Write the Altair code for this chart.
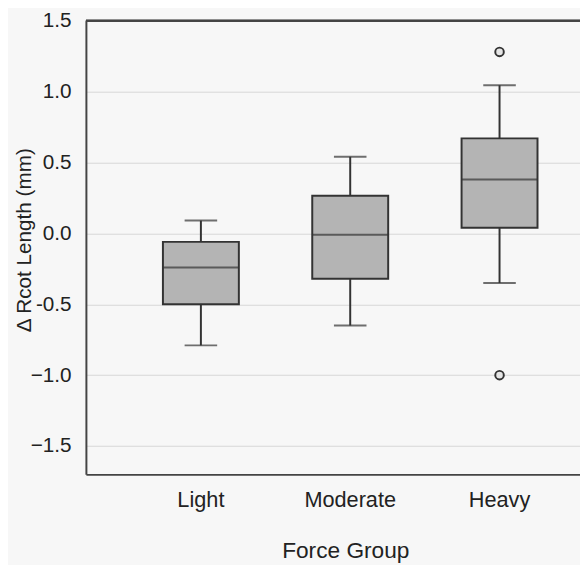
import altair as alt
import pandas as pd

# ---- data ----
groups = ["Light", "Moderate", "Heavy"]
whisker_low = [-0.79, -0.65, -0.35]
q1 = [-0.50, -0.32, 0.04]
median = [-0.24, -0.01, 0.38]
q3 = [-0.06, 0.265, 0.67]
whisker_high = [0.09, 0.54, 1.045]

outlier_groups = ["Heavy", "Heavy"]
outlier_values = [1.28, -1.00]

y_ticks = [-1.5, -1.0, -0.5, 0.0, 0.5, 1.0, 1.5]

stats = pd.DataFrame({
    "group": groups, "lo": whisker_low, "q1": q1, "med": median,
    "q3": q3, "hi": whisker_high,
})
outliers = pd.DataFrame({"group": outlier_groups, "value": outlier_values})

FONT = "Liberation Sans"
TXT = "#222222"
LINE = "#333333"
FRAME = "#444444"

W, H = 501, 460

xscale = alt.Scale(domain=groups, range=[0, 536], paddingInner=0.5, paddingOuter=0.52)
yscale = alt.Scale(domain=[-1.7, 1.5], nice=False, zero=False)

x_axis = alt.Axis(
    title="Force Group", labelAngle=0, ticks=False, tickSize=0, grid=False,
    labelFont=FONT, labelFontSize=22, labelColor=TXT, labelBaseline="alphabetic",
    labelPadding=33, titleFont=FONT, titleFontSize=23, titleFontWeight="normal",
    titleColor=TXT, titleBaseline="alphabetic", titleX=263, titleY=84,
    domain=True, domainColor=FRAME, domainWidth=2,
)
y_axis = alt.Axis(
    title="Δ Rcot Length (mm)", values=y_ticks, ticks=False, tickSize=0,
    grid=True, gridColor="#d6d6d6", gridWidth=1,
    labelExpr="datum.value == -0.5 ? '-0.5' : (datum.value < 0 ? '\u2212' + format(-datum.value, '.1f') : format(datum.value, '.1f'))",
    labelFont=FONT, labelFontSize=21, labelColor=TXT, labelPadding=15,
    titleFont=FONT, titleFontSize=21, titleFontWeight="normal", titleColor=TXT,
    titleAngle=270, titleX=-62, titleY=222, titleAlign="center", titleBaseline="middle",
    domain=True, domainColor=FRAME, domainWidth=2,
)

base = alt.Chart(stats)
X = alt.X("group:N", sort=groups, scale=xscale, axis=x_axis)

boxes = base.mark_bar(size=77, fill="#b4b4b4", stroke=LINE, strokeWidth=2).encode(
    x=X,
    y=alt.Y("q1:Q", scale=yscale, axis=y_axis),
    y2="q3:Q",
)
w_low = base.mark_rule(color=LINE, strokeWidth=2).encode(x=X, y="lo:Q", y2="q1:Q")
w_high = base.mark_rule(color=LINE, strokeWidth=2).encode(x=X, y="q3:Q", y2="hi:Q")
cap_low = base.mark_tick(color=LINE, size=33, thickness=2, orient="horizontal").encode(x=X, y="lo:Q")
cap_high = base.mark_tick(color=LINE, size=33, thickness=2, orient="horizontal").encode(x=X, y="hi:Q")
med = base.mark_tick(color=LINE, size=77, thickness=2, orient="horizontal").encode(x=X, y="med:Q")

pts = alt.Chart(outliers).mark_point(
    shape="circle", size=75, filled=False, fill="#e6e6e6", fillOpacity=1,
    stroke=LINE, strokeWidth=2, opacity=1,
).encode(x=X, y="value:Q")

top_line = base.mark_rule(color=FRAME, strokeWidth=2).encode(
    x=alt.value(0), x2=alt.value(W), y=alt.value(0)
)

chart = alt.layer(boxes, w_low, w_high, cap_low, cap_high, med, pts, top_line).properties(
    width=W, height=H,
    autosize=alt.AutoSizeParams(type="none"),
    padding={"left": 79, "top": 9, "right": 0, "bottom": 88},
    background="#f7f7f7",
).configure_view(stroke=None)

chart.save("out.html", embed_options={"renderer": "svg", "actions": False})
